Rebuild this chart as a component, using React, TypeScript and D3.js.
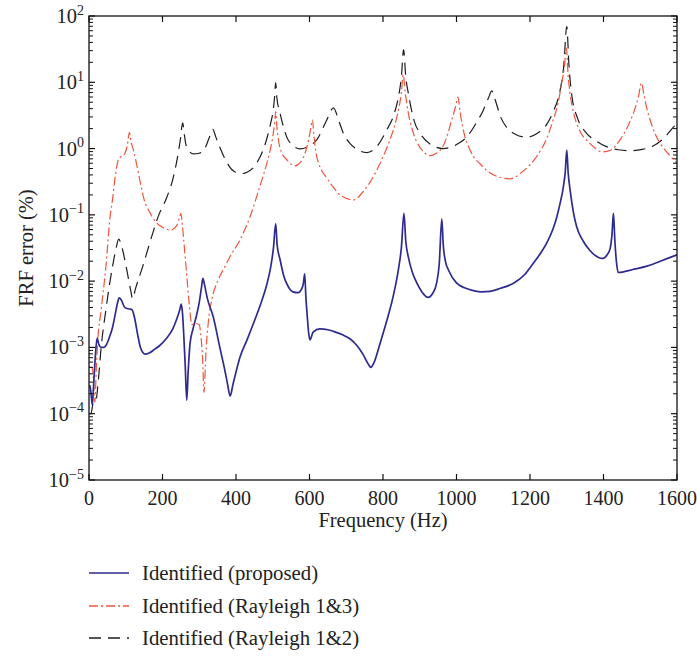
import React from "react";
import { scaleLinear, scaleLog, line, curveMonotoneX, range } from "d3";

// identified (proposed)
const proposedHz = [2, 5, 9, 13, 17, 22, 27, 33, 40, 46, 55, 64, 72, 78, 82, 88, 95, 101, 110, 117, 124, 132, 140, 147, 153, 165, 180, 191, 210, 228, 240, 247, 251, 254, 258, 262, 266, 270, 275, 283, 291, 300, 306, 310, 314, 322, 338, 356, 368, 377, 384, 392, 411, 430, 450, 470, 484, 495, 502, 508, 512, 520, 530, 542, 555, 569, 578, 583, 587, 590, 594, 598, 601, 610, 628, 650, 665, 690, 710, 730, 746, 760, 767, 775, 792, 810, 828, 842, 850, 857, 862, 869, 880, 892, 905, 923, 935, 946, 953, 960, 964, 969, 980, 1000, 1020, 1046, 1070, 1091, 1120, 1155, 1185, 1209, 1230, 1245, 1262, 1273, 1282, 1291, 1296, 1300, 1304, 1309, 1318, 1327, 1345, 1363, 1385, 1398, 1410, 1418, 1423, 1427, 1431, 1435, 1440, 1480, 1520, 1560, 1600];
const proposedErr = [2.7e-4, 2.2e-4, 1.35e-4, 3e-4, 7e-4, 1.38e-3, 1.1e-3, 1.0e-3, 1.0e-3, 1.07e-3, 1.4e-3, 2.0e-3, 3.3e-3, 4.8e-3, 5.6e-3, 5.2e-3, 4.2e-3, 3.9e-3, 3.8e-3, 3.7e-3, 2.8e-3, 1.6e-3, 1.0e-3, 8.3e-4, 7.9e-4, 8.3e-4, 9.5e-4, 1.05e-3, 1.35e-3, 1.9e-3, 2.8e-3, 3.7e-3, 4.5e-3, 3.5e-3, 1.5e-3, 5e-4, 1.6e-4, 4.5e-4, 1.15e-3, 1.9e-3, 2.8e-3, 4.8e-3, 8e-3, 1.1e-2, 9e-3, 5.5e-3, 2.9e-3, 1.0e-3, 5e-4, 2.8e-4, 1.85e-4, 2.8e-4, 7.2e-4, 1.3e-3, 2.5e-3, 5e-3, 9e-3, 1.7e-2, 3.2e-2, 7.4e-2, 3.5e-2, 2.1e-2, 1.2e-2, 8.3e-3, 6.9e-3, 6.7e-3, 7.5e-3, 9e-3, 1.29e-2, 6e-3, 2.9e-3, 1.6e-3, 1.3e-3, 1.7e-3, 1.9e-3, 1.85e-3, 1.75e-3, 1.55e-3, 1.35e-3, 1.05e-3, 7.8e-4, 5.6e-4, 5.0e-4, 5.8e-4, 1.15e-3, 2.5e-3, 6e-3, 1.5e-2, 3.2e-2, 0.105, 4.0e-2, 2.3e-2, 1.35e-2, 9.4e-3, 7e-3, 5.7e-3, 6.5e-3, 9.4e-3, 1.8e-2, 0.087, 3.5e-2, 2.1e-2, 1.4e-2, 9.4e-3, 8e-3, 7.2e-3, 6.9e-3, 7e-3, 7.8e-3, 9.3e-3, 1.25e-2, 1.86e-2, 2.7e-2, 3.7e-2, 6e-2, 9.3e-2, 0.15, 0.27, 0.45, 0.95, 0.42, 0.24, 0.11, 0.066, 0.04, 0.029, 0.023, 0.022, 0.025, 0.031, 0.05, 0.105, 0.04, 0.02, 0.0135, 0.015, 0.017, 0.0205, 0.025];

// identified (Rayleigh 1&3)
const rayleigh13Hz = [0, 8, 12, 16, 20, 24, 33, 46, 57, 64, 72, 80, 90, 98, 104, 110, 114, 121, 132, 143, 150, 165, 180, 200, 223, 238, 246, 250, 254, 258, 264, 272, 280, 290, 300, 305, 309, 313, 318, 325, 334, 350, 370, 384, 411, 438, 465, 480, 492, 500, 505, 508, 511, 516, 525, 538, 550, 560, 575, 588, 598, 604, 608, 612, 617, 625, 647, 665, 683, 719, 745, 774, 800, 819, 835, 842, 850, 855, 860, 869, 880, 892, 910, 928, 945, 964, 978, 987, 997, 1004, 1010, 1017, 1023, 1035, 1046, 1064, 1082, 1110, 1146, 1180, 1218, 1245, 1263, 1277, 1286, 1293, 1299, 1304, 1309, 1320, 1331, 1363, 1399, 1420, 1445, 1465, 1481, 1495, 1503, 1510, 1518, 1527, 1540, 1554, 1575, 1600];
const rayleigh13Err = [5e-4, 5e-4, 3.5e-4, 1.5e-4, 5e-4, 1.3e-3, 3.7e-3, 1.66e-2, 0.09, 0.17, 0.4, 0.68, 0.78, 0.85, 1.1, 1.76, 1.3, 0.95, 0.5, 0.25, 0.17, 0.11, 0.08, 0.065, 0.059, 0.068, 0.09, 0.105, 0.07, 0.04, 0.0166, 5e-3, 2.2e-3, 2.3e-3, 2.2e-3, 1.4e-3, 7e-4, 2.1e-4, 8e-4, 2.5e-3, 5.2e-3, 1.0e-2, 1.66e-2, 2.35e-2, 4.2e-2, 9.3e-2, 0.27, 0.5, 0.9, 1.5, 2.4, 3.6, 2.2, 1.3, 0.85, 0.68, 0.58, 0.55, 0.62, 0.85, 1.4, 2.1, 2.7, 1.6, 0.9, 0.6, 0.36, 0.26, 0.2, 0.168, 0.22, 0.38, 0.75, 1.36, 2.6, 3.8, 7, 13, 7.5, 3.4, 1.9, 1.26, 0.9, 0.78, 0.85, 1.1, 1.8, 2.7, 4.2, 6.0, 3.5, 2.1, 1.5, 1.0, 0.76, 0.59, 0.47, 0.38, 0.35, 0.45, 0.76, 1.4, 2.7, 5, 9.7, 16, 33, 12, 6.8, 3.2, 2.1, 1.2, 0.89, 0.95, 1.35, 2.1, 3.4, 6, 9.8, 6.5, 4, 2.7, 1.7, 1.2, 0.85, 0.6];

// identified (Rayleigh 1&2)
const rayleigh12Hz = [0, 5, 12, 19, 25, 33, 46, 56, 64, 74, 81, 88, 101, 112, 119, 126, 146, 160, 173, 190, 211, 229, 240, 248, 255, 259, 263, 270, 284, 300, 315, 328, 337, 345, 356, 375, 393, 415, 430, 456, 483, 495, 500, 505, 508, 511, 520, 538, 555, 574, 600, 620, 647, 665, 680, 692, 710, 728, 756, 785, 810, 830, 842, 850, 856, 862, 869, 885, 901, 930, 964, 1000, 1028, 1055, 1073, 1088, 1096, 1105, 1120, 1136, 1160, 1191, 1220, 1245, 1265, 1282, 1292, 1300, 1306, 1313, 1330, 1354, 1380, 1408, 1440, 1472, 1505, 1536, 1565, 1590, 1600];
const rayleigh12Err = [1e-4, 1e-4, 1.5e-4, 1.6e-4, 3e-4, 1e-3, 3.7e-3, 9e-3, 1.66e-2, 3.2e-2, 4.3e-2, 3.5e-2, 1.66e-2, 8e-3, 5.4e-3, 7.5e-3, 1.66e-2, 3e-2, 5.2e-2, 0.1, 0.18, 0.36, 0.7, 1.3, 2.45, 1.7, 1.2, 0.95, 0.83, 0.85, 1.0, 1.5, 1.95, 1.5, 1.05, 0.62, 0.46, 0.42, 0.44, 0.6, 1.36, 2.5, 3.4, 6, 9.9, 6, 3.4, 1.5, 1.1, 0.99, 1.1, 1.36, 2.7, 4.1, 2.6, 1.7, 1.2, 0.98, 0.87, 1.1, 1.9, 3.3, 6, 12, 31, 12, 6.8, 2.6, 1.7, 1.15, 1.0, 1.15, 1.5, 2.5, 3.8, 6, 7.4, 5.5, 3, 2.1, 1.65, 1.48, 1.7, 2.3, 3.8, 7.6, 18, 70, 18, 6.8, 2.8, 1.7, 1.3, 1.07, 0.96, 0.93, 0.97, 1.1, 1.45, 2.1, 2.4];

const xTicks = [0, 200, 400, 600, 800, 1000, 1200, 1400, 1600];
const yDecades = [-5, -4, -3, -2, -1, 0, 1, 2];

const series = [
  { name: "Identified (proposed)", hz: proposedHz, err: proposedErr, color: "#2e2b90", dash: "none", w: 1.7 },
  { name: "Identified (Rayleigh 1&3)", hz: rayleigh13Hz, err: rayleigh13Err, color: "#f0553f", dash: "9,3,2,3", w: 1.2 },
  { name: "Identified (Rayleigh 1&2)", hz: rayleigh12Hz, err: rayleigh12Err, color: "#1e1e1e", dash: "12,7", w: 1.2 },
];

function App() {
  const width = 697;
  const height = 660;
  const margin = { top: 16, right: 20, bottom: 180, left: 89 };
  const font = "'Liberation Serif', 'Times New Roman', serif";

  const x = scaleLinear().domain([0, 1600]).range([margin.left, width - margin.right]);
  const y = scaleLog().domain([1e-5, 1e2]).range([height - margin.bottom, margin.top]);
  const x0 = x(0), x1 = x(1600), y0 = y(1e-5), y1 = y(1e2);

  const path = line<[number, number]>()
    .x(d => x(d[0]))
    .y(d => y(d[1]))
    .curve(curveMonotoneX);

  const minor: number[] = [];
  yDecades.slice(0, -1).forEach(e => range(2, 10).forEach(m => minor.push(m * Math.pow(10, e))));

  return (
    <svg width={width} height={height} style={{ position: "absolute", left: 0, top: 0, background: "#fff" }} fontFamily={font}>
      <defs>
        <clipPath id="plot">
          <rect x={x0} y={y1} width={x1 - x0} height={y0 - y1} />
        </clipPath>
      </defs>

      <g clipPath="url(#plot)">
        {series.slice().reverse().map(s => (
          <path key={s.name}
            d={path(s.hz.map((h, i) => [h, s.err[i]] as [number, number])) || ""}
            fill="none" stroke={s.color} strokeWidth={s.w} strokeDasharray={s.dash}
            strokeLinejoin="round" />
        ))}
      </g>

      {/* frame and ticks */}
      <rect x={x0} y={y1} width={x1 - x0} height={y0 - y1} fill="none" stroke="#111" strokeWidth={1.3} />
      {xTicks.map(t => (
        <g key={t}>
          <line x1={x(t)} x2={x(t)} y1={y0} y2={y0 - 6} stroke="#111" strokeWidth={1.2} />
          <line x1={x(t)} x2={x(t)} y1={y1} y2={y1 + 6} stroke="#111" strokeWidth={1.2} />
          <text x={x(t)} y={y0 + 25} textAnchor="middle" fontSize={20} fill="#222">{t}</text>
        </g>
      ))}
      {yDecades.map(e => (
        <g key={e}>
          <line x1={x0} x2={x0 + 6} y1={y(Math.pow(10, e))} y2={y(Math.pow(10, e))} stroke="#111" strokeWidth={1.2} />
          <line x1={x1} x2={x1 - 6} y1={y(Math.pow(10, e))} y2={y(Math.pow(10, e))} stroke="#111" strokeWidth={1.2} />
          <text x={84} y={y(Math.pow(10, e)) + 7} textAnchor="end" fontSize={20.5} fill="#222">
            10<tspan fontSize={14} dy={-8.5}>{e < 0 ? "\u2212" + Math.abs(e) : e}</tspan>
          </text>
        </g>
      ))}
      {minor.map((v, i) => (
        <g key={i}>
          <line x1={x0} x2={x0 + 4} y1={y(v)} y2={y(v)} stroke="#111" strokeWidth={1} />
          <line x1={x1} x2={x1 - 4} y1={y(v)} y2={y(v)} stroke="#111" strokeWidth={1} />
        </g>
      ))}

      <text x={(x0 + x1) / 2} y={y0 + 47} textAnchor="middle" fontSize={20.5} fill="#222">Frequency (Hz)</text>
      <text transform={`translate(33, ${(y0 + y1) / 2}) rotate(-90)`} textAnchor="middle" fontSize={20.5} fill="#222">FRF error (%)</text>

      {/* legend */}
      <g transform="translate(89, 573)">
        {series.map((s, i) => (
          <g key={s.name} transform={`translate(0, ${Math.round(i * 32.5)})`}>
            <line x1={0} x2={40} y1={0} y2={0} stroke={s.color} strokeWidth={1.3} strokeDasharray={s.dash} />
            <text x={53} y={6.5} fontSize={20.8} fill="#222">{s.name}</text>
          </g>
        ))}
      </g>
    </svg>
  );
}

export default App;
